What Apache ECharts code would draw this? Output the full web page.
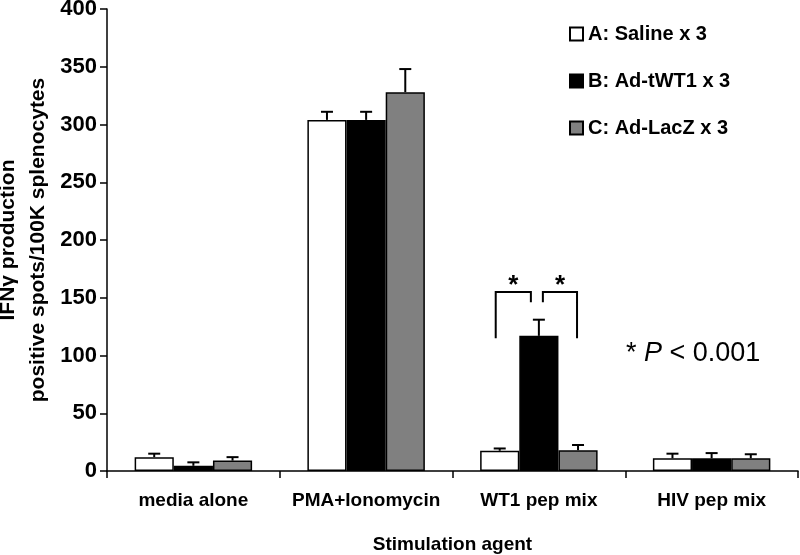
<!DOCTYPE html>
<html>
<head>
    <meta charset="utf-8">
    <title>IFNg ELISPOT</title>
    <script src="https://cdn.jsdelivr.net/npm/echarts@6/dist/echarts.min.js"></script>
    <style>
        body { margin: 0; background: #fff; }
    </style>
</head>
<body>
<div id="main" style="width: 800px;height:555px;"></div>
<script type="text/javascript">
    // categories
    var categories = ['media alone', 'PMA+Ionomycin', 'WT1 pep mix', 'HIV pep mix']
    // group names
    var groupNames = ['A: Saline x 3', 'B: Ad-tWT1 x 3', 'C: Ad-LacZ x 3']
    // mean values
    var salineVals = [12, 304, 17.5, 11]
    var tWT1Vals = [4.5, 304, 117, 11]
    var lacZVals = [9, 328, 18, 11]
    // top of the error bars
    var salineErr = [15, 311, 19.5, 15]
    var tWT1Err = [7.5, 311, 131, 15.5]
    var lacZErr = [12, 348, 22.5, 14.5]
    // y ticks
    var yTicks = [0, 50, 100, 150, 200, 250, 300, 350, 400]

    // significance brackets on WT1 pep mix: [from bar, to bar, low end, high end, top]
    var sigCat = 2
    var brackets = [[0, 1, 115, 146, 155], [1, 2, 146, 115, 155]]

    var fnt = 'Liberation Sans, Arial, sans-serif'
    var catGap = 0.32
    var barShare = (1 - catGap) / 3

    var myChart = echarts.init(document.getElementById('main'))

    function errSeries(idx, tops, vals) {
        var d = []
        for (var i = 0; i < tops.length; i++) d.push([i, vals[i], tops[i]])
        return {
            type: 'custom',
            name: 'err' + idx,
            z: 5,
            renderItem: function (params, api) {
                var band = api.size([1, 0])[0]
                var bw = band * barShare
                var p0 = api.coord([api.value(0), api.value(1)])
                var p1 = api.coord([api.value(0), api.value(2)])
                var x = p0[0] + (idx - 1) * bw
                var cap = 6
                return {
                    type: 'group',
                    children: [{
                        type: 'line',
                        shape: {x1: x, y1: p0[1], x2: x, y2: p1[1]},
                        style: {stroke: '#000', lineWidth: 2}
                    }, {
                        type: 'line',
                        shape: {x1: x - cap, y1: p1[1], x2: x + cap, y2: p1[1]},
                        style: {stroke: '#000', lineWidth: 2}
                    }]
                }
            },
            data: d
        }
    }

    var option = {
        animation: false,
        textStyle: {fontFamily: fnt},
        grid: {left: 107, right: 2, top: 9, bottom: 84, outerBoundsMode: 'none', containLabel: false},
        legend: {
            data: groupNames,
            orient: 'vertical',
            left: 564,
            top: 19,
            icon: 'rect',
            itemWidth: 13,
            itemHeight: 13,
            itemGap: 27,
            textStyle: {fontFamily: fnt, fontWeight: 'bold', fontSize: 20, color: '#000'}
        },
        xAxis: {
            type: 'category',
            data: categories,
            name: 'Stimulation agent',
            nameLocation: 'middle',
            nameGap: 64,
            nameTextStyle: {fontFamily: fnt, fontWeight: 'bold', fontSize: 19, color: '#000'},
            axisLine: {lineStyle: {color: '#000', width: 1.5}},
            axisTick: {show: true, length: 7, lineStyle: {color: '#000', width: 1.5}},
            axisLabel: {interval: 0, margin: 20, fontFamily: fnt, fontWeight: 'bold', fontSize: 19, color: '#000'}
        },
        yAxis: {
            type: 'value',
            min: yTicks[0],
            max: yTicks[yTicks.length - 1],
            interval: 50,
            name: 'IFNγ production\npositive spots/100K splenocytes',
            nameLocation: 'middle',
            nameGap: 54,
            nameMoveOverlap: false,
            nameTextStyle: {fontFamily: fnt, fontWeight: 'bold', fontSize: 21, color: '#000', lineHeight: 30},
            axisLine: {show: true, lineStyle: {color: '#000', width: 1.5}},
            axisTick: {show: true, length: 7, lineStyle: {color: '#000', width: 1.5}},
            axisLabel: {margin: 10, fontFamily: fnt, fontWeight: 'bold', fontSize: 22, color: '#000'},
            splitLine: {show: false}
        },
        series: [{
            name: groupNames[0],
            type: 'bar',
            data: salineVals,
            barGap: '0%',
            barCategoryGap: (catGap * 100) + '%',
            itemStyle: {color: '#fff', borderColor: '#000', borderWidth: 1.5}
        }, {
            name: groupNames[1],
            type: 'bar',
            data: tWT1Vals,
            itemStyle: {color: '#000', borderColor: '#000', borderWidth: 1.5}
        }, {
            name: groupNames[2],
            type: 'bar',
            data: lacZVals,
            itemStyle: {color: '#808080', borderColor: '#000', borderWidth: 1.5}
        },
            errSeries(0, salineErr, salineVals),
            errSeries(1, tWT1Err, tWT1Vals),
            errSeries(2, lacZErr, lacZVals),
            {
                type: 'custom',
                name: 'sig',
                z: 6,
                renderItem: function (params, api) {
                    var b = brackets[params.dataIndex]
                    var band = api.size([1, 0])[0]
                    var bw = band * barShare
                    var c = api.coord([sigCat, 0])[0]
                    var xa = c + (b[0] - 1) * bw - 4
                    var xb = c + (b[1] - 1) * bw - 8
                    if (b[0] == 1) { xa = c + 4; xb = c + bw - 1 }
                    var ya = api.coord([sigCat, b[2]])[1]
                    var yb = api.coord([sigCat, b[3]])[1]
                    var yt = api.coord([sigCat, b[4]])[1]
                    return {
                        type: 'group',
                        children: [{
                            type: 'polyline',
                            shape: {points: [[xa, ya], [xa, yt], [xb, yt], [xb, yb]]},
                            style: {stroke: '#000', lineWidth: 2, fill: null}
                        }, {
                            type: 'text',
                            style: {
                                x: (xa + xb) / 2, y: yt + 7, text: '*',
                                align: 'center', verticalAlign: 'bottom',
                                font: 'bold 26px ' + fnt, fill: '#000'
                            }
                        }]
                    }
                },
                data: [0, 1]
            }
        ],
        graphic: [{
            type: 'text',
            left: 626,
            top: 340,
            style: {
                text: '* {i|P} < 0.001',
                font: '27px ' + fnt,
                fill: '#000',
                rich: {i: {fontStyle: 'italic', fontSize: 27, fontFamily: fnt}}
            }
        }]
    }

    myChart.setOption(option)
</script>
</body>
</html>
